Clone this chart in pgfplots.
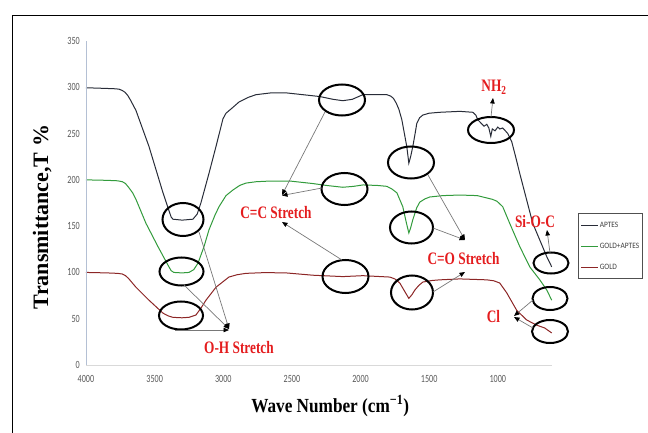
\documentclass[border=0pt]{standalone}
\usepackage{fontspec}
\setmainfont{Liberation Serif}
\newfontfamily\tickfont[FakeStretch=0.74]{Carlito}
\newfontfamily\legfont[FakeStretch=0.9]{Carlito}
\newfontfamily\condserif[FakeStretch=0.76]{Liberation Serif}
\newfontfamily\xlabfont[FakeStretch=0.86]{Liberation Serif}
\usepackage{pgfplots}
\pgfplotsset{compat=1.18}
\usetikzlibrary{arrows.meta}
\definecolor{aptes}{RGB}{40,44,56}
\definecolor{gapt}{RGB}{50,155,60}
\definecolor{gold}{RGB}{140,38,38}
\definecolor{annred}{RGB}{228,28,30}
\definecolor{ticktext}{RGB}{89,89,89}
\definecolor{yaxisc}{RGB}{180,192,212}
\definecolor{xaxisc}{RGB}{217,217,217}
\definecolor{legborder}{RGB}{80,80,80}
\definecolor{legtext}{RGB}{64,64,64}
\definecolor{arrowgray}{RGB}{120,120,120}
\begin{document}
\begin{tikzpicture}
\useasboundingbox (0bp,0bp) rectangle (648bp,-433bp);
\begin{axis}[
  at={(319bp,-365bp)}, anchor=south,
  scale only axis, width=466bp, height=324bp,
  x dir=reverse, xmin=605, xmax=4000, ymin=0, ymax=350,
  xtick={1000,1500,...,4000}, ytick={0,50,...,350},
  axis line style={draw=none}, major tick length=0pt, tick style={draw=none},
  tick label style={font=\tickfont\fontsize{11bp}{12bp}\selectfont, text=ticktext},
  /pgf/number format/assume math mode=true, /pgf/number format/1000 sep={},
  yticklabel style={inner sep=0pt, xshift=-6bp},
  xticklabel style={inner sep=0pt, yshift=-10bp},
  xlabel={Wave Number (cm\textsuperscript{−1})},
  xlabel style={at={(axis description cs:0.524,-0.127)}, anchor=center, font=\xlabfont\bfseries\fontsize{20bp}{24bp}\selectfont},
  ylabel={Transmittance,T \%},
  ylabel style={at={(axis description cs:-0.094,0.457)}, anchor=center, font=\bfseries\fontsize{22bp}{26bp}\selectfont},
  legend style={at={(axis description cs:1.056,0.469)}, anchor=north west, draw=legborder, line width=1.2bp,
    inner xsep=2bp, inner ysep=7bp, row sep=12bp, font=\legfont\fontsize{8.2bp}{9bp}\selectfont, text=legtext,
    nodes={inner sep=1bp, text height=5.8bp, text depth=1.2bp}},
  legend cell align=left,
  legend image code/.code={\draw[#1, line width=1.1bp] (0bp,0bp) -- (17bp,0bp);},
]
\addplot[aptes, line width=1bp] table[x=wn, y=t] {
wn t
4000 299.5
3900 299
3800 298.5
3760 298
3735 296.5
3715 294.5
3695 291
3675 286
3636 275
3541 236
3439 186
3403 170
3380 160
3367 157.5
3300 156.5
3221 157.5
3190 163
3163 175
3104 207
3053 236
3002 266
2980 272
2940 277
2886 284
2820 289
2762 292
2650 294
2544 294
2450 292.5
2296 290
2200 287
2129 285.5
2060 287
1983 292
1900 292
1808 292
1780 290.5
1760 288
1740 283
1720 276
1699 265
1663 236
1648 218
1635 225
1619 236
1600 252
1590 261
1570 267
1546 270
1500 272
1422 273
1277 274
1182 273
1160 270
1146 265
1120 261
1100 258
1080 260
1065 256
1051 247
1040 255
1020 253
1000 257
985 255
964 256
945 253
927 250
898 241
870 225
840 207
789 178
745 153
694 135
643 117
607 106
};
\addlegendentry{APTES}
\addplot[gapt, line width=1bp] table[x=wn, y=t] {
wn t
4000 200
3850 199.5
3770 199
3735 198
3712 196
3690 192
3660 186
3636 179
3563 153
3476 128
3403 108
3380 102
3360 100
3300 99.5
3250 100
3215 103
3184 110
3140 128
3104 146
3060 162
3031 171
2980 183
2930 189
2880 194
2835 196.5
2760 198
2689 198.5
2500 198.5
2347 196
2250 194
2129 192
2050 193
1983 194.5
1880 194
1808 193
1770 190
1735 186
1692 171
1665 153
1648 142.6
1635 148
1619 157
1590 170
1568 176
1530 179.5
1495 181.5
1400 183
1277 183.6
1150 183
1109 181.5
1040 179
1007 177
985 174
964 171
913 153
840 128
767 106
694 92
643 81
607 70
};
\addlegendentry{GOLD+APTES}
\addplot[gold, line width=1bp] table[x=wn, y=t] {
wn t
4000 100
3850 99.5
3770 99
3735 98.3
3712 96.5
3690 93.5
3636 84
3541 70
3439 56
3400 53
3367 51.5
3300 51
3250 51.5
3199 54
3160 62
3126 70
3053 84
2959 95
2900 97.5
2835 99
2700 99.8
2544 99.5
2347 97
2129 95.5
1983 96.5
1786 95
1750 93
1714 88.6
1680 80
1648 72
1625 76
1604 81
1575 86
1546 89.6
1480 91.3
1422 92
1277 93
1080 92
1030 91
986 88.6
935 78
862 59
789 48.6
716 43
658 40
607 34.6
};
\addlegendentry{GOLD}
\end{axis}
\begin{scope}[x=1bp, y=-1bp]
  % frame and axis lines
  \draw[black, line width=1bp] (12,434)--(12,15)--(649,15);
  \draw[yaxisc, line width=0.9bp] (86,41)--(86,365);
  \draw[xaxisc, line width=0.9bp] (86,365)--(552,365);
  % ellipses
  \begin{scope}[line width=2bp, black]
    \draw (183,219.5) ellipse [x radius=20.5bp, y radius=16.5bp];
    \draw (181.5,271.5) ellipse [x radius=22bp, y radius=14bp];
    \draw (181,315.5) ellipse [x radius=22bp, y radius=14bp];
    \draw (342,100) ellipse [x radius=23bp, y radius=15.5bp];
    \draw (344.5,189) ellipse [x radius=23bp, y radius=16bp];
    \draw (345.5,276.5) ellipse [x radius=23bp, y radius=16.5bp];
    \draw (411,162.5) ellipse [x radius=23bp, y radius=16bp];
    \draw (411.5,227.5) ellipse [x radius=21.5bp, y radius=16bp];
    \draw (412,292.5) ellipse [x radius=21bp, y radius=17bp];
    \draw (491,130) ellipse [x radius=23bp, y radius=13bp];
    \draw (551,263) ellipse [x radius=17.5bp, y radius=10.5bp];
    \draw (550,298.5) ellipse [x radius=17.5bp, y radius=11.5bp];
    \draw (550,331.5) ellipse [x radius=18bp, y radius=11.5bp];
  \end{scope}
  % arrows
  \begin{scope}[arrowgray, line width=0.7bp, -{Triangle[length=5.5bp, width=4.5bp, color=black]}]
    \draw (199,232) -- (229,329);
    \draw (184,285) -- (229,329);
    \draw (175,330) -- (229,330);
    \draw (325,112) -- (282,195);
    \draw (322,188) -- (282,195.5);
    \draw (342,260) -- (282,222);
    \draw (428,175) -- (465,240);
    \draw (433,228) -- (465,240);
    \draw (433,292) -- (465,272);
    \draw (491,117) -- (493,98);
    \draw (550,253) -- (547,230);
    \draw (533,300) -- (514,316);
    \draw (533,328) -- (514,317);
  \end{scope}
  % labels
  \begin{scope}[annred, font=\condserif\bfseries\fontsize{17.5bp}{20bp}\selectfont, inner sep=0pt]
    \node at (239,348) {O-H Stretch};
    \node at (276,213) {C=C Stretch};
    \node at (463.5,258.5) {C=O Stretch};
    \node at (494,87) {NH\textsubscript{2}};
    \node at (535,221.5) {Si-O-C};
    \node at (493.5,316.5) {Cl};
  \end{scope}
\end{scope}
\end{tikzpicture}
\end{document}
